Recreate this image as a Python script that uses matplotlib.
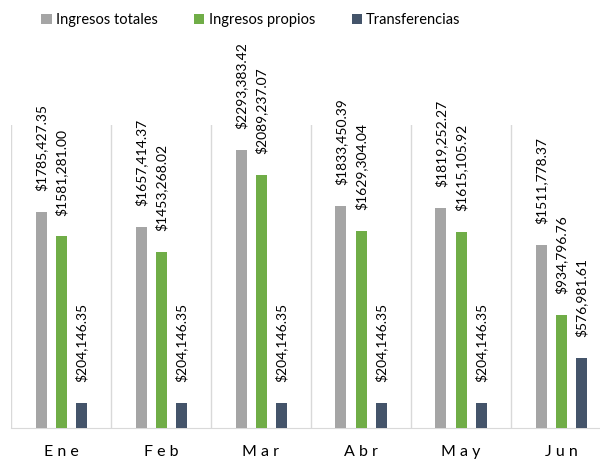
import numpy as np
import matplotlib.pyplot as plt

plt.rcParams['font.family'] = ['Lato', 'DejaVu Sans']

meses = ["Ene", "Feb", "Mar", "Abr", "May", "Jun"]
ingresos_totales = [1785427.35, 1657414.37, 2293383.42, 1833450.39, 1819252.27, 1511778.37]
ingresos_propios = [1581281.00, 1453268.02, 2089237.07, 1629304.04, 1615105.92, 934796.76]
transferencias = [204146.35, 204146.35, 204146.35, 204146.35, 204146.35, 576981.61]

series = [
    ("Ingresos totales", ingresos_totales, "#a5a5a5"),
    ("Ingresos propios", ingresos_propios, "#70ad47"),
    ("Transferencias", transferencias, "#44546a"),
]


def formato(v):
    # the source shows only the last thousands separator, e.g. $1785,427.35
    miles = int(v) // 1000
    resto = v - miles * 1000
    return "${},{:06.2f}".format(miles, resto)


fig = plt.figure(figsize=(6, 4.59), dpi=100)
ax = fig.add_axes([11 / 600, 31 / 459, 1.0, 303 / 459])

x = np.arange(len(meses))
for k, (nombre, valores, color) in enumerate(series):
    pos = x + (k - 1) * 0.2
    ax.bar(pos, valores, width=0.11, color=color, label=nombre, zorder=3)
    for p, v in zip(pos, valores):
        ax.annotate(formato(v), (p, v),
                    xytext=(0, 15), textcoords="offset points",
                    rotation=90, ha="center", va="bottom",
                    fontsize=10, color="#000000", annotation_clip=False)

for b in np.arange(-0.5, len(meses) + 0.5, 1):
    ax.axvline(b, color="#d9d9d9", lw=1, zorder=1)

ax.set_xlim(-0.5, len(meses) - 0.5)
ax.set_ylim(0, 2500000)
ax.set_yticks([])
ax.set_xticks(x)
ax.set_xticklabels([" ".join(m) for m in meses], fontsize=11.5)
ax.tick_params(axis="x", length=0, pad=12)
for s in ["top", "right", "left"]:
    ax.spines[s].set_visible(False)
ax.spines["bottom"].set_color("#d9d9d9")

fig.legend(loc="center", bbox_to_anchor=(251 / 600, 1 - 20 / 459), ncol=3,
           frameon=False, fontsize=10.5, handlelength=0.7, handleheight=0.7,
           handletextpad=0.3, columnspacing=2.5)

fig.savefig("out.png", dpi=100)
